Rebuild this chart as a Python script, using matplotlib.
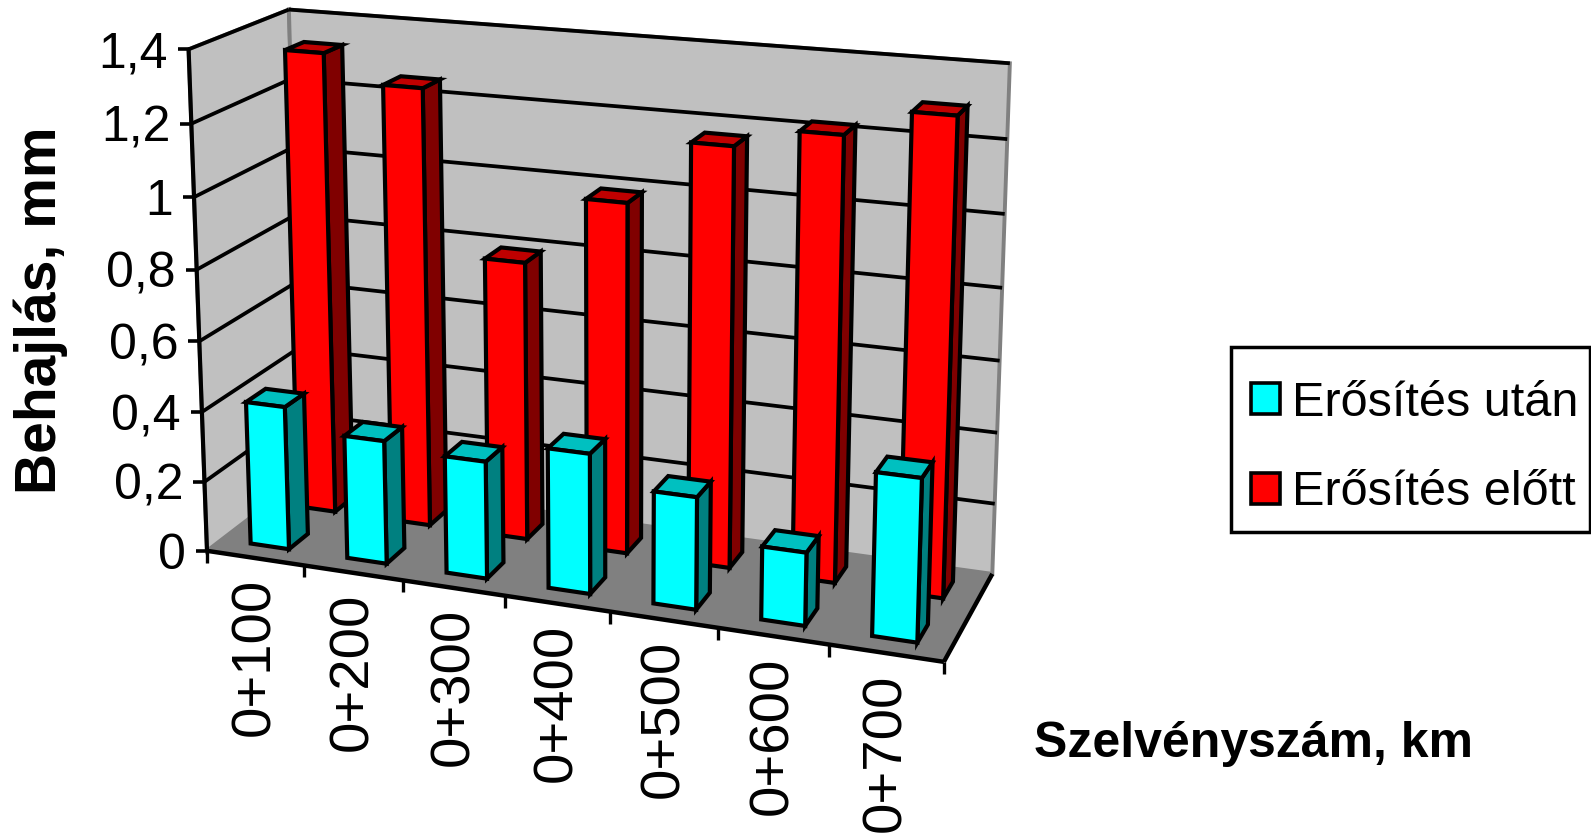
import numpy as np
import matplotlib
matplotlib.use("Agg")
import matplotlib.pyplot as plt
from matplotlib.patches import Polygon, Patch, Rectangle

plt.rcParams["font.family"] = ["Liberation Sans", "DejaVu Sans"]

categories = ["0+100", "0+200", "0+300", "0+400", "0+500", "0+600", "0+700"]
erosites_utan = [0.41, 0.35, 0.33, 0.39, 0.31, 0.20, 0.44]
erosites_elott = [1.33, 1.255, 0.795, 0.99, 1.17, 1.225, 1.30]
yticks = [0, 0.2, 0.4, 0.6, 0.8, 1, 1.2, 1.4]
ytick_labels = ["0", "0,2", "0,4", "0,6", "0,8", "1", "1,2", "1,4"]
ymax = 1.4

W, H = 1591, 833

# where the box corners and ticks sit on the picture, (u, v, w) -> pixel
anchors = [
    ((0, 0, 0), (207, 552)), ((1, 0, 0), (945, 660)),
    ((1, 1, 0), (992, 575)), ((0, 1, 0), (304, 477)),
    ((0, 0, 1), (190, 49)), ((0, 1, 1), (287, 9)),
    ((1, 1, 1), (1010, 64)),
    ((1 / 7, 0, 0), (303, 566)), ((2 / 7, 0, 0), (401, 580)),
    ((3 / 7, 0, 0), (505, 596)), ((4 / 7, 0, 0), (610, 612)),
    ((5 / 7, 0, 0), (718, 628)), ((6 / 7, 0, 0), (830, 644)),
    ((0, 0, 0.5), (199, 306)),
]

rows = []
for (u, v, w), (x, y) in anchors:
    rows.append([u, v, w, 1, 0, 0, 0, 0, -x * u, -x * v, -x * w, -x])
    rows.append([0, 0, 0, 0, u, v, w, 1, -y * u, -y * v, -y * w, -y])
cam = np.linalg.svd(np.array(rows, dtype=float))[2][-1].reshape(3, 4)


def proj(u, v, w):
    p = cam @ np.array([u, v, w, 1.0])
    return p[0] / p[2], p[1] / p[2]


def face(ax, pts, fc, ec="black", lw=3.0):
    ax.add_patch(Polygon([proj(*p) for p in pts], closed=True, facecolor=fc,
                         edgecolor=ec, linewidth=lw, joinstyle="miter", zorder=2))


def line(ax, a, b, lw=2.7, color="black"):
    pa, pb = proj(*a), proj(*b)
    ax.plot([pa[0], pb[0]], [pa[1], pb[1]], color=color, lw=lw, solid_capstyle="butt", zorder=2)


def bar(ax, i, value, v1, v2, front, side, top):
    u1 = (i + 0.3) / 7
    u2 = (i + 0.7) / 7
    w = value / ymax
    face(ax, [(u2, v1, 0), (u2, v2, 0), (u2, v2, w), (u2, v1, w)], side)
    face(ax, [(u1, v1, w), (u2, v1, w), (u2, v2, w), (u1, v2, w)], top)
    face(ax, [(u1, v1, 0), (u2, v1, 0), (u2, v1, w), (u1, v1, w)], front)


fig = plt.figure(figsize=(W / 100, H / 100), dpi=100)
ax = fig.add_axes([0, 0, 1, 1])
ax.set_xlim(0, W)
ax.set_ylim(H, 0)
ax.axis("off")

# walls and floor
face(ax, [(0, 0, 0), (0, 1, 0), (0, 1, 1), (0, 0, 1)], "#C0C0C0", "#808080", 2.8)
face(ax, [(0, 1, 0), (1, 1, 0), (1, 1, 1), (0, 1, 1)], "#C0C0C0", "#808080", 2.8)
face(ax, [(0, 0, 0), (1, 0, 0), (1, 1, 0), (0, 1, 0)], "#808080", "#808080", 1)

for t, lab in zip(yticks, ytick_labels):
    w = t / ymax
    if t > 0:
        line(ax, (0, 0, w), (0, 1, w))
        line(ax, (0, 1, w), (1, 1, w))
    x, y = proj(0, 0, w)
    ax.plot([x - 11, x], [y, y], color="black", lw=2.6, solid_capstyle="butt", zorder=2)
    ax.text(x - 21, y + 18, lab, ha="right", va="baseline", fontsize=36)

# axis lines
line(ax, (0, 0, 0), (0, 0, 1), lw=3.0)
line(ax, (0, 0, 0), (1, 0, 0), lw=3.2)
line(ax, (1, 0, 0), (1, 1, 0), lw=3.2)

for i in range(8):
    x, y = proj(i / 7, 0, 0)
    ax.plot([x, x], [y, y + 12], color="black", lw=2.4, solid_capstyle="butt", zorder=2)

for i, name in enumerate(categories):
    x, y = proj((i + 0.5) / 7, 0, 0)
    ax.text(x, y + 20, name, rotation=90, ha="center", va="top", fontsize=40.5)

# back row first, front row over it
for i, val in enumerate(erosites_elott):
    bar(ax, i, val, 0.65, 0.85, "#FF0000", "#800000", "#C00000")
for i, val in enumerate(erosites_utan):
    bar(ax, i, val, 0.15, 0.35, "#00FFFF", "#008080", "#00C0C0")

ax.text(41, 310, "Behajlás, mm", rotation=90, ha="center", va="center",
        fontsize=41, fontweight="bold")
ax.text(1253, 744, "Szelvényszám, km", ha="center", va="center",
        fontsize=36, fontweight="bold")

# legend box is drawn apart, it touches the picture edge
ax.add_patch(Rectangle((1231, 347), 359, 185, facecolor="white", edgecolor="black",
                       linewidth=2.5, zorder=3))
handles = [Patch(facecolor="#00FFFF", edgecolor="black", linewidth=2.6, label="Erősítés után"),
           Patch(facecolor="#FF0000", edgecolor="black", linewidth=2.6, label="Erősítés előtt")]
leg = ax.legend(handles=handles, loc="upper left", bbox_to_anchor=(1251 / W, 1 - 381 / H),
                bbox_transform=fig.transFigure, borderaxespad=0, fontsize=35,
                handlelength=0.6, handleheight=0.6, handletextpad=0.25, labelspacing=0.915,
                borderpad=0, frameon=False)
leg.set_zorder(4)

plt.savefig("out.png", dpi=100)
